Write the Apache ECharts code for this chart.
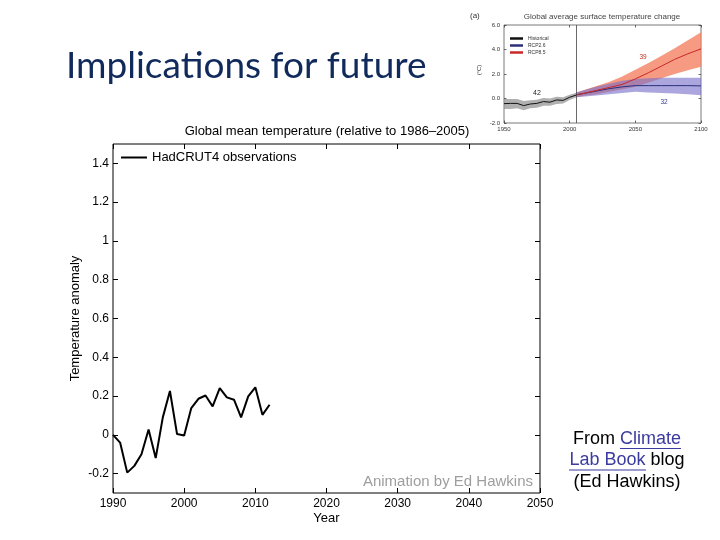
<!DOCTYPE html>
<html>
<head>
<meta charset="utf-8">
<script src="https://cdn.jsdelivr.net/npm/echarts@6/dist/echarts.min.js"></script>
<style>html,body{margin:0;padding:0;background:#fff;}#c{width:720px;height:540px;}</style>
</head>
<body>
<div id="c"></div>
<script>
// ---- Main chart data (HadCRUT4, relative to 1986-2005) ----
const years = [1990,1991,1992,1993,1994,1995,1996,1997,1998,1999,2000,2001,2002,2003,2004,2005,2006,2007,2008,2009,2010,2011,2012];
const anomaly = [0.0,-0.04,-0.195,-0.16,-0.10,0.028,-0.12,0.09,0.226,0.004,-0.003,0.138,0.186,0.203,0.147,0.241,0.193,0.181,0.09,0.198,0.245,0.103,0.155];
const yTicks = [-0.2,0,0.2,0.4,0.6,0.8,1,1.2,1.4];
const xTicks = [1990,2000,2010,2020,2030,2040,2050];

// ---- Inset (IPCC panel a) data ----
const histYears = [1950,1955,1960,1965,1970,1975,1980,1985,1990,1995,2000,2005];
const histMean = [-0.42,-0.40,-0.40,-0.58,-0.45,-0.40,-0.25,-0.30,-0.12,-0.15,0.10,0.28];
const histLow  = [-0.85,-0.85,-0.80,-0.95,-0.80,-0.75,-0.60,-0.60,-0.45,-0.40,-0.12,0.08];
const histHigh = [-0.05,-0.05,-0.05,-0.20,-0.15,-0.10,0.05,0.00,0.15,0.10,0.30,0.46];
const rcpYears = [2005,2010,2020,2030,2040,2050,2060,2070,2080,2090,2100];
const rcp26Mean = [0.30,0.40,0.60,0.80,0.95,1.05,1.05,1.05,1.05,1.05,1.03];
const rcp26Low  = [0.10,0.15,0.25,0.35,0.45,0.55,0.50,0.45,0.40,0.35,0.27];
const rcp26High = [0.50,0.65,0.95,1.20,1.45,1.60,1.65,1.70,1.70,1.70,1.70];
const rcp85Mean = [0.30,0.40,0.65,0.90,1.15,1.60,2.10,2.65,3.20,3.65,4.05];
const rcp85Low  = [0.10,0.20,0.35,0.55,0.75,0.95,1.30,1.65,2.00,2.30,2.60];
const rcp85High = [0.50,0.65,1.00,1.35,1.80,2.35,2.90,3.50,4.10,4.75,5.40];

const pairs = (xs, ys) => xs.map((x, i) => [x, ys[i]]);

const chart = echarts.init(document.getElementById('c'), null, {renderer: 'canvas'});
const F = 'Liberation Sans, Arial, sans-serif';

function band(name, xs, low, high, color) {
  return {
    name: name, type: 'custom', xAxisIndex: 2, yAxisIndex: 2, silent: true, z: 1,
    data: pairs(xs, low),
    renderItem: function (params, api) {
      if (params.dataIndex !== 0) return null;
      const top = xs.map((x, i) => api.coord([x, high[i]]));
      const bot = xs.map((x, i) => api.coord([x, low[i]])).reverse();
      return {type: 'polygon', shape: {points: top.concat(bot)}, style: {fill: color}};
    }
  };
}

const option = {
  backgroundColor: '#fff',
  animation: false,
  title: {
    text: 'Implications for future', left: 61, top: 43,
    textStyle: {fontFamily: 'Lato, sans-serif', fontSize: 37, fontWeight: 'normal', color: '#112a5c'}
  },
  legend: [
    {data: [{name: 'HadCRUT4 observations', icon: 'rect'}], left: 121, top: 151, itemWidth: 26, itemHeight: 2,
     textStyle: {fontFamily: F, fontSize: 13, color: '#000'}, padding: 0, selectedMode: false},
    {data: [{name: 'Historical', icon: 'rect'}, {name: 'RCP2.6', icon: 'rect'}, {name: 'RCP8.5', icon: 'rect'}],
     orient: 'vertical', left: 510, top: 36, itemWidth: 13, itemHeight: 2.5, itemGap: 2, padding: 0,
     textStyle: {fontFamily: F, fontSize: 5, color: '#333'}, selectedMode: false}
  ],
  grid: [
    {left: 113, top: 144, width: 427, height: 349, show: true, borderColor: '#000', borderWidth: 1, backgroundColor: 'transparent'},
    {left: 504, top: 25, width: 197, height: 98, show: true, borderColor: '#555', borderWidth: 0.8, backgroundColor: 'transparent'}
  ],
  xAxis: [
    {gridIndex: 0, type: 'value', min: 1990, max: 2050, interval: 10, position: 'bottom',
     name: 'Year', nameLocation: 'middle', nameGap: 19, nameMoveOverlap: false,
     nameTextStyle: {fontFamily: F, fontSize: 13, color: '#000'},
     axisLine: {show: false, onZero: false}, splitLine: {show: false},
     axisTick: {inside: true, length: 5, lineStyle: {color: '#000'}},
     axisLabel: {fontFamily: F, fontSize: 12, color: '#000', margin: 5, formatter: v => String(v)}},
    {gridIndex: 0, type: 'value', min: 1990, max: 2050, interval: 10, position: 'top',
     axisLine: {show: false, onZero: false}, splitLine: {show: false},
     axisTick: {inside: true, length: 5, lineStyle: {color: '#000'}}, axisLabel: {show: false}},
    {gridIndex: 1, type: 'value', min: 1950, max: 2100, interval: 50, position: 'bottom',
     axisLine: {show: false, onZero: false}, splitLine: {show: false},
     axisTick: {inside: true, length: 2.5, lineStyle: {color: '#444', width: 0.8}},
     axisLabel: {fontFamily: F, fontSize: 6, color: '#333', margin: 3, formatter: v => String(v)}},
    {gridIndex: 1, type: 'value', min: 1950, max: 2100, interval: 50, position: 'top',
     axisLine: {show: false, onZero: false}, splitLine: {show: false},
     axisTick: {inside: true, length: 2.5, lineStyle: {color: '#444', width: 0.8}}, axisLabel: {show: false}}
  ],
  yAxis: [
    {gridIndex: 0, type: 'value', min: -0.3, max: 1.5, position: 'left',
     name: 'Temperature anomaly', nameLocation: 'middle', nameGap: 31, nameRotate: 90, nameMoveOverlap: false,
     nameTextStyle: {fontFamily: F, fontSize: 13, color: '#000'},
     axisLine: {show: false, onZero: false}, splitLine: {show: false},
     axisTick: {inside: true, length: 5, customValues: yTicks, lineStyle: {color: '#000'}},
     axisLabel: {fontFamily: F, fontSize: 12, color: '#000', margin: 4, customValues: yTicks, formatter: v => String(v)}},
    {gridIndex: 0, type: 'value', min: -0.3, max: 1.5, position: 'right',
     axisLine: {show: false, onZero: false}, splitLine: {show: false},
     axisTick: {inside: true, length: 5, customValues: yTicks, lineStyle: {color: '#000'}},
     axisLabel: {show: false, customValues: yTicks}},
    {gridIndex: 1, type: 'value', min: -2, max: 6, interval: 2, position: 'left',
     axisLine: {show: false, onZero: false}, splitLine: {show: false},
     axisTick: {inside: true, length: 2.5, lineStyle: {color: '#444', width: 0.8}},
     axisLabel: {fontFamily: F, fontSize: 6, color: '#333', margin: 4, formatter: v => v.toFixed(1)}},
    {gridIndex: 1, type: 'value', min: -2, max: 6, interval: 2, position: 'right',
     axisLine: {show: false, onZero: false}, splitLine: {show: false},
     axisTick: {inside: true, length: 2.5, lineStyle: {color: '#444', width: 0.8}}, axisLabel: {show: false}}
  ],
  series: [
    {name: 'HadCRUT4 observations', type: 'line', xAxisIndex: 0, yAxisIndex: 0,
     data: pairs(years, anomaly), symbol: 'none', color: '#000', lineStyle: {color: '#000', width: 2}, z: 5},
    band('hist_band', histYears, histLow, histHigh, 'rgba(150,150,150,0.75)'),
    band('r85_band', rcpYears, rcp85Low, rcp85High, 'rgba(243,125,95,0.78)'),
    band('r26_band', rcpYears, rcp26Low, rcp26High, 'rgba(120,112,200,0.62)'),
    {name: 'Historical', type: 'line', xAxisIndex: 2, yAxisIndex: 2, data: pairs(histYears, histMean),
     symbol: 'none', color: '#111', lineStyle: {color: '#111', width: 1}, z: 4,
     markLine: {silent: true, symbol: 'none', label: {show: false}, data: [{xAxis: 2005}],
                lineStyle: {color: '#444', width: 0.8, type: 'solid'}}},
    {name: 'RCP2.6', type: 'line', xAxisIndex: 2, yAxisIndex: 2, data: pairs(rcpYears, rcp26Mean),
     symbol: 'none', color: '#2b2f7a', lineStyle: {color: '#2b2f7a', width: 1}, z: 4},
    {name: 'RCP8.5', type: 'line', xAxisIndex: 2, yAxisIndex: 2, data: pairs(rcpYears, rcp85Mean),
     symbol: 'none', color: '#c8282a', lineStyle: {color: '#c8282a', width: 1}, z: 4}
  ],
  graphic: [
    {type: 'text', x: 327, y: 131, style: {text: 'Global mean temperature (relative to 1986\u20132005)',
      font: '13px ' + F, fill: '#000', align: 'center', verticalAlign: 'middle'}},
    {type: 'text', x: 533, y: 482, style: {text: 'Animation by Ed Hawkins',
      font: '15px ' + F, fill: '#9e9e9e', align: 'right', verticalAlign: 'middle'}},
    {type: 'text', x: 470, y: 16, style: {text: '(a)', font: '8px ' + F, fill: '#333', align: 'left', verticalAlign: 'middle'}},
    {type: 'text', x: 602, y: 17, style: {text: 'Global average surface temperature change',
      font: '8px ' + F, fill: '#444', align: 'center', verticalAlign: 'middle'}},
    {type: 'text', x: 479, y: 70, rotation: Math.PI / 2, style: {text: '(\u00b0C)', font: '6px ' + F, fill: '#333',
      align: 'center', verticalAlign: 'middle'}},
    {type: 'text', x: 537, y: 93, style: {text: '42', font: '7px ' + F, fill: '#222', align: 'center', verticalAlign: 'middle'}},
    {type: 'text', x: 643, y: 57, style: {text: '39', font: '6.5px ' + F, fill: '#b83020', align: 'center', verticalAlign: 'middle'}},
    {type: 'text', x: 664, y: 102, style: {text: '32', font: '6.5px ' + F, fill: '#3a3a90', align: 'center', verticalAlign: 'middle'}},
    {type: 'text', x: 627, y: 439, style: {text: 'From {l|Climate}', font: '18px ' + F, fill: '#000',
      align: 'center', verticalAlign: 'middle', rich: {l: {fill: '#3b3ba0', font: '18px ' + F}}}},
    {type: 'text', x: 627, y: 460.5, style: {text: '{l|Lab Book} blog', font: '18px ' + F, fill: '#000',
      align: 'center', verticalAlign: 'middle', rich: {l: {fill: '#3b3ba0', font: '18px ' + F}}}},
    {type: 'text', x: 627, y: 482, style: {text: '(Ed Hawkins)', font: '18px ' + F, fill: '#000',
      align: 'center', verticalAlign: 'middle'}},
    {type: 'line', shape: {x1: 620, y1: 448.5, x2: 681, y2: 448.5}, style: {stroke: '#3b3ba0', lineWidth: 1.2}},
    {type: 'line', shape: {x1: 569, y1: 470, x2: 646, y2: 470}, style: {stroke: '#3b3ba0', lineWidth: 1.2}}
  ]
};
chart.setOption(option);
</script>
</body>
</html>
